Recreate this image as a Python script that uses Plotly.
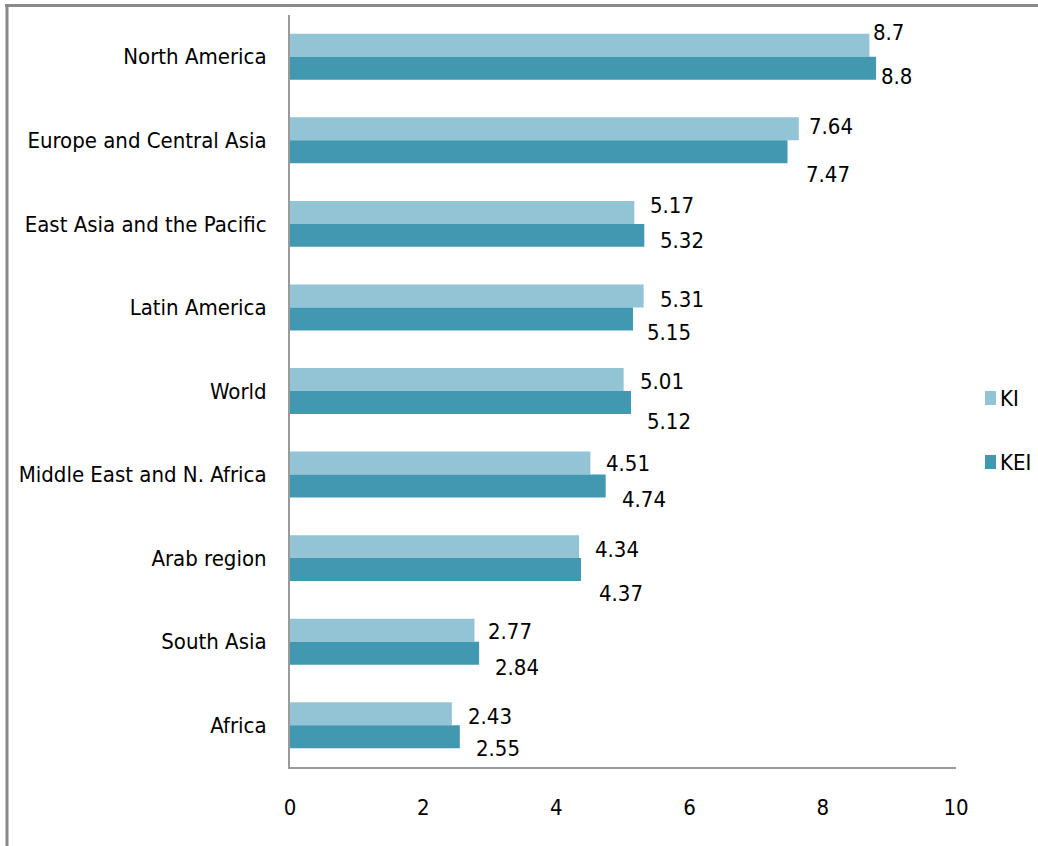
import plotly.graph_objects as go

regions = ["North America", "Europe and Central Asia", "East Asia and the Pacific",
           "Latin America", "World", "Middle East and N. Africa", "Arab region",
           "South Asia", "Africa"]
ki = [8.7, 7.64, 5.17, 5.31, 5.01, 4.51, 4.34, 2.77, 2.43]
kei = [8.8, 7.47, 5.32, 5.15, 5.12, 4.74, 4.37, 2.84, 2.55]
ki_labels = ["8.7", "7.64", "5.17", "5.31", "5.01", "4.51", "4.34", "2.77", "2.43"]
kei_labels = ["8.8", "7.47", "5.32", "5.15", "5.12", "4.74", "4.37", "2.84", "2.55"]

# label placement (pixels, style only)
ki_dy = [24, 14, 18, 8, 10, 11, 9, 10, 9]
kei_dy = [-20, -34, -17, -25, -30, -25, -35, -26, -23]
ki_dx = [2, 8, 14, 14, 14, 14, 14, 12, 14]
kei_dx = [3, 16, 14, 12, 14, 14, 16, 14, 14]

C_KI = "#93C4D5"
C_KEI = "#4398B1"
FONT = "DejaVu Sans Condensed, Liberation Sans Narrow, sans-serif"
FS = 22

fig = go.Figure()
fig.add_trace(go.Bar(y=regions, x=ki, name="KI", orientation="h",
                     marker=dict(color=C_KI, line=dict(width=0))))
fig.add_trace(go.Bar(y=regions, x=kei, name="KEI", orientation="h",
                     marker=dict(color=C_KEI, line=dict(width=0))))

ann = []
for i, r in enumerate(regions):
    ann.append(dict(x=ki[i], y=r, xref="x", yref="y", text=ki_labels[i], showarrow=False,
                    xanchor="left", yanchor="middle", xshift=ki_dx[i], yshift=ki_dy[i],
                    font=dict(family=FONT, size=FS, color="#000")))
    ann.append(dict(x=kei[i], y=r, xref="x", yref="y", text=kei_labels[i], showarrow=False,
                    xanchor="left", yanchor="middle", xshift=kei_dx[i], yshift=kei_dy[i],
                    font=dict(family=FONT, size=FS, color="#000")))

# plot area in pixels: x 290..956, y 15..767
L, R, T, B = 290, 956, 15, 767
W, H = R - L, B - T
def px(xp):
    return (xp - L) / W
def py(yp):
    return (B - yp) / H

# manual legend
shapes = []
for name, col, yc in [("KI", C_KI, 398), ("KEI", C_KEI, 462)]:
    shapes.append(dict(type="rect", xref="paper", yref="paper",
                       x0=px(985), x1=px(996), y0=py(yc + 7), y1=py(yc - 7),
                       fillcolor=col, line=dict(width=0)))
    ann.append(dict(x=px(998), y=py(yc), xref="paper", yref="paper", text=name,
                    showarrow=False, xanchor="left", yanchor="middle",
                    font=dict(family=FONT, size=FS, color="#000")))

# outer frame (top and left borders)
shapes.append(dict(type="line", xref="paper", yref="paper", x0=px(5), x1=px(1040),
                   y0=py(5.5), y1=py(5.5), line=dict(color="#8a8a8a", width=3)))
shapes.append(dict(type="line", xref="paper", yref="paper", x0=px(7), x1=px(7),
                   y0=py(5), y1=py(850), line=dict(color="#8a8a8a", width=3)))

fig.update_layout(
    width=1038, height=846,
    margin=dict(l=L, r=1038 - R, t=T, b=846 - B, autoexpand=False),
    barmode="group", bargap=0.45, bargroupgap=0,
    plot_bgcolor="white", paper_bgcolor="white",
    showlegend=False,
    font=dict(family=FONT, size=FS, color="#000"),
    annotations=ann, shapes=shapes,
    xaxis=dict(range=[0, 10], dtick=2, tick0=0, showgrid=False, zeroline=False,
               showline=True, linecolor="#9a9a9a", linewidth=2, ticks="",
               ticklabelstandoff=20, tickfont=dict(family=FONT, size=FS, color="#000")),
    yaxis=dict(autorange="reversed", showgrid=False, zeroline=False,
               showline=True, linecolor="#9a9a9a", linewidth=2, ticks="",
               ticklabelstandoff=17, tickfont=dict(family=FONT, size=FS, color="#000")),
)

fig.write_html("out.html", config={"displayModeBar": False},
               post_script="document.body.style.margin='0';document.body.style.overflow='hidden';")
